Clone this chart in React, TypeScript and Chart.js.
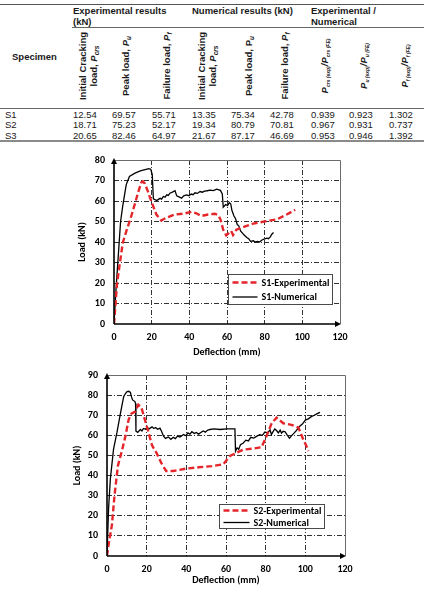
import React, { useEffect, useRef } from 'react';
import { Chart, registerables } from 'chart.js';

Chart.register(...registerables);

// ---- Table values (kN and ratios) ----
const SPECIMENS = ['S1', 'S2', 'S3'];
const EXP_CRACKING = [12.54, 18.71, 20.65];
const EXP_PEAK = [69.57, 75.23, 82.46];
const EXP_FAILURE = [55.71, 52.17, 64.97];
const NUM_CRACKING = [13.35, 19.34, 21.67];
const NUM_PEAK = [75.34, 80.79, 87.17];
const NUM_FAILURE = [42.78, 70.81, 46.69];
const RATIO_CRACKING = [0.939, 0.967, 0.953];
const RATIO_PEAK = [0.923, 0.931, 0.946];
const RATIO_FAILURE = [1.302, 0.737, 1.392];

// ---- Load–deflection curves: [deflection (mm), load (kN)] ----
const S1_EXPERIMENTAL: [number, number][] = [
  [0, 0], [0.7, 8.4], [1.6, 19.6], [3.0, 29], [4.7, 39.8], [6.6, 45.4], [8.9, 51.8], [11.0, 58.3],
  [12.7, 63.9], [14.5, 69.0], [15.3, 69.57], [16.3, 68.6], [18.0, 64.7], [19.8, 59.9], [22.5, 53.4],
  [25.1, 50.5], [27.7, 51.8], [32.2, 53.4], [37.5, 53.9], [41.1, 54.7], [43.7, 54.0], [46.4, 52.7],
  [50.0, 53.4], [53.5, 53.8], [55.5, 53.0], [56.5, 51.0], [58.0, 46.0], [59.6, 43.2], [61.0, 44.3],
  [62.2, 45.4], [63.2, 43.4], [65.0, 46.0], [68.6, 47.3], [74.0, 49.0], [81.1, 50.2], [86.4, 51.0],
  [91.7, 53.4], [96.2, 55.71],
];

const S1_NUMERICAL: [number, number][] = [
  [0, 0], [1.0, 16], [2.1, 31], [3.5, 50], [4.7, 58], [6.5, 68], [8.2, 72], [10.9, 73.5], [13.0, 74.3],
  [14.4, 74.8], [16.5, 75.3], [18.5, 75.8], [19.5, 75.5], [20.3, 73], [20.9, 61], [22.7, 60.2],
  [23.6, 60.8], [24.5, 61.3], [25.3, 60.9], [26.2, 62.2], [27.1, 61.9], [28.0, 63.0], [28.8, 62.7],
  [29.7, 63.8], [31.0, 64.3], [32.4, 65.0], [33.3, 62.5], [34.5, 62.0], [35.9, 61.4], [37.0, 62.5],
  [38.6, 63.0], [39.8, 62.6], [41.0, 63.4], [42.0, 63.1], [43.0, 64.0], [44.3, 63.7], [45.7, 64.6],
  [47.0, 64.3], [48.0, 64.8], [49.5, 65.0], [51.0, 65.3], [52.8, 65.1], [54.5, 65.8], [56.5, 65.2],
  [57.5, 63.5], [58.0, 57.0], [59.3, 58.3], [60.3, 57.8], [61.2, 59.2], [62.0, 58.5], [62.6, 55.5],
  [63.7, 52.7], [64.5, 51.5], [65.4, 48.6], [66.3, 47.8], [67.2, 45.4], [69.0, 43.5], [70.5, 42.2],
  [71.5, 41.6], [72.5, 40.3], [74.0, 40.6], [75.0, 40.0], [76.0, 40.3], [77.2, 40.0], [78.6, 41.0],
  [80.0, 41.5], [81.2, 41.9], [82.0, 41.6], [83.0, 42.5], [83.8, 43.8], [84.7, 44.6],
];

const S2_EXPERIMENTAL: [number, number][] = [
  [0, 0], [0.8, 5.7], [2.5, 15.5], [3.8, 30.2], [5.5, 44.9], [7.3, 51.5], [9.3, 59.6], [10.9, 67.8],
  [12.3, 70.8], [14.2, 71.8], [15.8, 75.23], [17.3, 74.0], [18.6, 69.5], [20.5, 63.0], [22.7, 55.0],
  [25.1, 51.0], [27.5, 46.0], [29.8, 42.3], [33.6, 42.3], [39.5, 43.4], [46.2, 44.1], [53.0, 44.7],
  [58.6, 45.6], [62.0, 49.7], [65.3, 51.3], [68.7, 52.9], [73.8, 53.4], [77.9, 54.1], [80.4, 59.5],
  [83.0, 66.0], [85.5, 68.8], [88.9, 66.0], [93.0, 65.2], [96.5, 63.9], [99.0, 57.8], [100.6, 54.6],
  [101.5, 52.17],
];

const S2_NUMERICAL: [number, number][] = [
  [0, 0], [0.8, 23.7], [1.7, 38.4], [3.3, 53.1], [5.0, 61.3], [6.8, 71.1], [8.4, 79.2], [9.3, 80.8],
  [10.1, 81.7], [11.0, 81.9], [11.8, 81.3], [12.4, 79.0], [12.9, 77.6], [14.1, 76.8], [14.4, 75.8],
  [14.6, 62.1], [15.5, 61.5], [16.8, 62.9], [17.6, 62.2], [18.4, 63.4], [19.4, 63.0], [20.3, 63.9],
  [21.2, 63.2], [22.7, 64.2], [23.6, 63.4], [24.5, 63.9], [25.5, 63.0], [26.7, 63.6], [27.5, 62.0],
  [28.5, 59.6], [29.5, 58.5], [31.0, 59.2], [32.2, 58.0], [33.4, 59.0], [34.5, 58.4], [35.5, 59.6],
  [36.8, 59.2], [38.6, 60.4], [39.8, 59.8], [40.8, 61.2], [41.8, 60.6], [42.8, 61.8], [44.0, 60.9],
  [45.0, 61.4], [46.2, 60.6], [47.5, 61.5], [48.5, 62.2], [49.6, 61.6], [50.6, 62.5], [51.9, 62.9],
  [54.0, 63.2], [57.0, 62.9], [60.5, 63.2], [64.5, 63.2], [64.8, 52.1], [65.6, 53.8], [66.4, 53.0],
  [67.3, 55.4], [68.7, 56.2], [70.0, 57.6], [71.3, 57.2], [72.5, 59.0], [74.0, 58.6], [75.6, 59.6],
  [77.0, 60.3], [78.3, 60.0], [79.6, 61.6], [81.0, 61.2], [82.2, 62.7], [82.9, 60.4], [83.8, 62.0],
  [84.6, 63.2], [85.5, 62.4], [86.4, 61.2], [87.3, 62.6], [88.0, 61.1], [88.8, 62.0], [89.8, 61.8],
  [90.8, 60.2], [92.0, 58.6], [93.2, 60.0], [94.3, 61.1], [95.5, 62.4], [97.0, 64.4], [98.5, 65.6],
  [100.0, 67.6], [101.5, 68.2], [103.0, 69.3], [104.5, 70.0], [106.0, 70.8], [107.4, 71.4],
];

const DEFLECTION_MAX = 120;
const DEFLECTION_STEP = 20;
const LOAD_STEP = 10;

const RED = '#e4262b';
const GRID = '#333333';
const CHART_FONT = 'Carlito, Lato, "Open Sans", sans-serif';
const TABLE_FONT = '"Liberation Sans", Arial, sans-serif';

type LegendBox = { dx: number; dy: number; w: number; h: number; row1: number; row2: number; lineFrom: number; lineTo: number; textX: number };

type ChartSpec = {
  left: number; top: number; width: number; height: number;
  yMax: number;
  expData: [number, number][];
  numData: [number, number][];
  expLabel: string; numLabel: string;
  padTop: number; padRight: number; yWidth: number; xHeight: number;
  xTitlePad: number; yTitlePad: number;
  legend: LegendBox;
};

const toPoints = (pairs: [number, number][]) => pairs.map(([x, y]) => ({ x, y }));

function LoadDeflectionChart(spec: ChartSpec) {
  const ref = useRef<HTMLCanvasElement>(null);

  useEffect(() => {
    const canvas = ref.current;
    if (!canvas) return;

    // frame, arrowed axes and the boxed legend inside the plot
    const decorations = {
      id: 'decorations',
      beforeDatasetsDraw(chart: any) {
        const { ctx, chartArea: a } = chart;
        ctx.save();
        ctx.strokeStyle = '#6b6b6b';
        ctx.lineWidth = 1;
        ctx.beginPath();
        ctx.moveTo(a.left, Math.round(a.top) + 0.5);
        ctx.lineTo(Math.round(a.right) + 0.5, Math.round(a.top) + 0.5);
        ctx.lineTo(Math.round(a.right) + 0.5, a.bottom);
        ctx.stroke();
        ctx.restore();
      },
      afterDatasetsDraw(chart: any) {
        const { ctx, chartArea: a } = chart;
        ctx.save();
        ctx.strokeStyle = '#000';
        ctx.fillStyle = '#000';
        ctx.lineWidth = 1.6;
        ctx.beginPath();
        ctx.moveTo(a.left, a.bottom);
        ctx.lineTo(a.left, a.top + 3);
        ctx.moveTo(a.left, a.bottom);
        ctx.lineTo(a.right - 3, a.bottom);
        ctx.stroke();
        // arrow heads
        ctx.beginPath();
        ctx.moveTo(a.left, a.top - 2);
        ctx.lineTo(a.left - 3, a.top + 4);
        ctx.lineTo(a.left + 3, a.top + 4);
        ctx.closePath();
        ctx.fill();
        ctx.beginPath();
        ctx.moveTo(a.right + 1, a.bottom);
        ctx.lineTo(a.right - 5, a.bottom - 3);
        ctx.lineTo(a.right - 5, a.bottom + 3);
        ctx.closePath();
        ctx.fill();
        ctx.restore();
      },
      afterDraw(chart: any) {
        const { ctx, chartArea: a } = chart;
        const L = spec.legend;
        const x0 = Math.round(a.left + L.dx) + 0.5;
        const y0 = Math.round(a.top + L.dy) + 0.5;
        ctx.save();
        ctx.fillStyle = '#fff';
        ctx.fillRect(x0, y0, L.w, L.h);
        ctx.strokeStyle = '#4a4a4a';
        ctx.lineWidth = 1;
        ctx.strokeRect(x0, y0, L.w, L.h);
        const ds = chart.data.datasets;
        const rows = [L.row1, L.row2];
        ds.forEach((d: any, i: number) => {
          const y = y0 + rows[i];
          ctx.beginPath();
          ctx.strokeStyle = d.borderColor;
          ctx.lineWidth = d.borderWidth;
          ctx.setLineDash(d.borderDash || []);
          ctx.moveTo(x0 + L.lineFrom, y);
          ctx.lineTo(x0 + L.lineTo, y);
          ctx.stroke();
          ctx.setLineDash([]);
          ctx.fillStyle = '#000';
          ctx.font = `bold 10px ${CHART_FONT}`;
          ctx.textBaseline = 'middle';
          ctx.textAlign = 'left';
          ctx.fillText(d.label, x0 + L.textX, y + 0.5);
        });
        ctx.restore();
      },
    };

    const tickFont = { family: CHART_FONT, size: 10, weight: 'bold' as const };
    const gridColor = (max: number) => (c: any) =>
      c.tick && (c.tick.value === 0 || c.tick.value === max) ? 'rgba(0,0,0,0)' : GRID;

    const chart = new Chart(canvas, {
      type: 'line',
      data: {
        datasets: [
          {
            label: spec.expLabel,
            data: toPoints(spec.expData),
            borderColor: RED,
            borderWidth: 2.4,
            borderDash: [6, 3],
            pointRadius: 0,
            tension: 0,
            fill: false,
          },
          {
            label: spec.numLabel,
            data: toPoints(spec.numData),
            borderColor: '#000',
            borderWidth: 1.3,
            pointRadius: 0,
            tension: 0,
            fill: false,
          },
        ],
      },
      options: {
        responsive: false,
        animation: false,
        devicePixelRatio: 1,
        events: [],
        layout: { padding: { top: spec.padTop, right: spec.padRight, bottom: 0, left: 0 } },
        plugins: { legend: { display: false }, tooltip: { enabled: false } },
        scales: {
          x: {
            type: 'linear',
            min: 0,
            max: DEFLECTION_MAX,
            ticks: { stepSize: DEFLECTION_STEP, padding: 7.5, color: '#000', font: tickFont, maxRotation: 0 },
            grid: { drawTicks: false, color: gridColor(DEFLECTION_MAX), lineWidth: 1 },
            border: { display: false, dash: [5, 2, 1, 2] },
            title: {
              display: true,
              text: 'Deflection (mm)',
              color: '#000',
              font: tickFont,
              padding: { top: 0, bottom: spec.xTitlePad },
            },
            afterFit: (s: any) => { s.height = spec.xHeight; },
          },
          y: {
            type: 'linear',
            min: 0,
            max: spec.yMax,
            ticks: { stepSize: LOAD_STEP, padding: 9, color: '#000', font: tickFont },
            grid: { drawTicks: false, color: gridColor(spec.yMax), lineWidth: 1 },
            border: { display: false, dash: [5, 2, 1, 2] },
            title: {
              display: true,
              text: 'Load (kN)',
              color: '#000',
              font: tickFont,
              padding: { top: spec.yTitlePad, bottom: 0 },
            },
            afterFit: (s: any) => { s.width = spec.yWidth; },
          },
        },
      },
      plugins: [decorations],
    });

    return () => chart.destroy();
  }, []);

  return (
    <canvas
      ref={ref}
      width={spec.width}
      height={spec.height}
      style={{ position: 'absolute', left: spec.left, top: spec.top, width: spec.width, height: spec.height }}
    />
  );
}

const P = ({ sub, italicP = true, subSize = 6.5 }: { sub: string; italicP?: boolean; subSize?: number }) => (
  <span>
    <span style={{ fontStyle: italicP ? 'italic' : 'normal' }}>P</span>
    <span style={{ fontStyle: 'italic', fontSize: subSize, position: 'relative', top: 2, lineHeight: 0 }}>{sub}</span>
  </span>
);

function Rotated({ cx, cy, children }: { cx: number; cy: number; children: React.ReactNode }) {
  return (
    <div
      style={{
        position: 'absolute',
        left: cx,
        top: cy,
        transform: 'translate(-50%, -50%) rotate(-90deg)',
        whiteSpace: 'nowrap',
        textAlign: 'center',
        lineHeight: '11px',
        fontWeight: 'bold',
      }}
    >
      {children}
    </div>
  );
}

function ResultsTable() {
  const colLeft = [73, 112, 152, 192, 231, 270, 311, 349, 389];
  const rowTop = [108.5, 119.3, 130];
  const cols = [
    EXP_CRACKING.map((v) => v.toFixed(2)),
    EXP_PEAK.map((v) => v.toFixed(2)),
    EXP_FAILURE.map((v) => v.toFixed(2)),
    NUM_CRACKING.map((v) => v.toFixed(2)),
    NUM_PEAK.map((v) => v.toFixed(2)),
    NUM_FAILURE.map((v) => v.toFixed(2)),
    RATIO_CRACKING.map((v) => v.toFixed(3)),
    RATIO_PEAK.map((v) => v.toFixed(3)),
    RATIO_FAILURE.map((v) => v.toFixed(3)),
  ];
  const hr = (top: number, left: number, right: number, h: number, color: string) => (
    <div style={{ position: 'absolute', top, left, width: right - left, height: h, background: color }} />
  );
  const headY = 66;
  return (
    <div style={{ position: 'absolute', left: 0, top: 0, width: 432, height: 145, fontFamily: TABLE_FONT, fontSize: 9.5, color: '#1a1a1a' }}>
      {hr(4, 0, 424, 1, '#555')}
      {hr(27, 72, 424, 1, '#666')}
      {hr(108, 0, 424, 1, '#666')}
      {hr(140, 0, 424, 2, '#8a8a8a')}

      <div style={{ position: 'absolute', left: 73, top: 4.5, fontWeight: 'bold', lineHeight: '11.5px' }}>
        Experimental results<br />(kN)
      </div>
      <div style={{ position: 'absolute', left: 192, top: 4.5, fontWeight: 'bold', lineHeight: '11.5px', whiteSpace: 'nowrap' }}>
        Numerical results (kN)
      </div>
      <div style={{ position: 'absolute', left: 311, top: 4.5, fontWeight: 'bold', lineHeight: '11.5px' }}>
        Experimental /<br />Numerical
      </div>
      <div style={{ position: 'absolute', left: 12, top: 51, fontWeight: 'bold', lineHeight: '11px' }}>Specimen</div>

      <Rotated cx={87.5} cy={headY}>Initial Cracking<br />load, <P sub="crs" /></Rotated>
      <Rotated cx={125} cy={headY}>Peak load, <P sub="u" /></Rotated>
      <Rotated cx={166} cy={headY}>Failure load, <P sub="f" /></Rotated>
      <Rotated cx={206.5} cy={headY}>Initial Cracking<br />load, <P sub="crs" /></Rotated>
      <Rotated cx={248} cy={headY}>Peak load, <P sub="u" italicP={false} /></Rotated>
      <Rotated cx={284} cy={headY}>Failure load, <P sub="f" /></Rotated>
      <Rotated cx={324} cy={headY}>
        <span style={{ fontStyle: 'italic' }}>
          <P sub="crs (exp)" subSize={5} />/<P sub="crs (FE)" subSize={5} />
        </span>
      </Rotated>
      <Rotated cx={363} cy={headY}>
        <span style={{ fontStyle: 'italic' }}>
          <P sub="u (exp)" subSize={5} />/<P sub="u (FE)" subSize={5} />
        </span>
      </Rotated>
      <Rotated cx={404} cy={headY}>
        <span style={{ fontStyle: 'italic' }}>
          <P sub="f (exp)" subSize={5} />/<P sub="f (FE)" subSize={5} />
        </span>
      </Rotated>

      {SPECIMENS.map((s, r) => (
        <div key={s} style={{ position: 'absolute', left: 5, top: rowTop[r], lineHeight: '11px' }}>{s}</div>
      ))}
      {cols.map((col, c) =>
        col.map((txt, r) => (
          <div key={`${c}-${r}`} style={{ position: 'absolute', left: colLeft[c], top: rowTop[r], lineHeight: '11px' }}>
            {txt}
          </div>
        )),
      )}
    </div>
  );
}

export default function App() {
  return (
    <div style={{ position: 'absolute', left: 0, top: 0, width: 432, height: 590, background: '#fff', overflow: 'hidden' }}>
      <ResultsTable />
      <LoadDeflectionChart
        left={40} top={145} width={330} height={215}
        yMax={80}
        expData={S1_EXPERIMENTAL} numData={S1_NUMERICAL}
        expLabel="S1-Experimental" numLabel="S1-Numerical"
        padTop={13} padRight={30} yWidth={74} xHeight={36}
        xTitlePad={2} yTitlePad={36}
        legend={{ dx: 114, dy: 114, w: 104, h: 30, row1: 8, row2: 22.5, lineFrom: 4, lineTo: 29, textX: 33 }}
      />
      <LoadDeflectionChart
        left={40} top={360} width={330} height={230}
        yMax={90}
        expData={S2_EXPERIMENTAL} numData={S2_NUMERICAL}
        expLabel="S2-Experimental" numLabel="S2-Numerical"
        padTop={12} padRight={25} yWidth={67} xHeight={34}
        xTitlePad={4} yTitlePad={31}
        legend={{ dx: 112, dy: 129, w: 105, h: 24, row1: 6, row2: 18, lineFrom: 4, lineTo: 30, textX: 34 }}
      />
    </div>
  );
}
